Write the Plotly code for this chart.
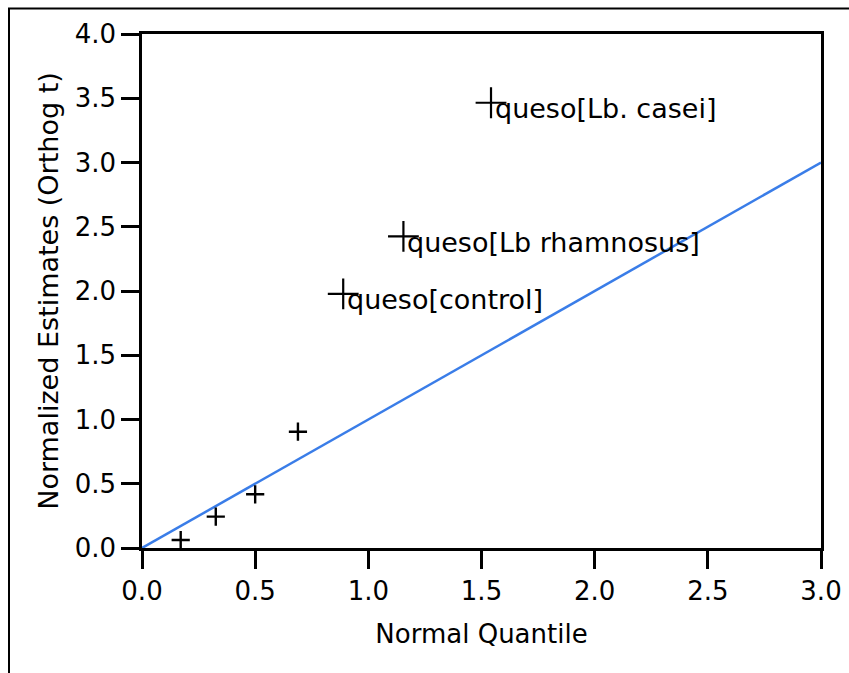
import plotly.graph_objects as go

# data
quantile = [0.171, 0.326, 0.500, 0.689, 0.889, 1.155, 1.542]
estimates = [0.062, 0.244, 0.418, 0.905, 1.977, 2.425, 3.465]
labels = ["", "", "", "", "queso[control]", "queso[Lb rhamnosus]", "queso[Lb. casei]"]
ref_x = [0.0, 3.0]
ref_y = [0.0, 3.0]
x_ticks = [0.0, 0.5, 1.0, 1.5, 2.0, 2.5, 3.0]
y_ticks = [0.0, 0.5, 1.0, 1.5, 2.0, 2.5, 3.0, 3.5, 4.0]

FONT = "DejaVu Sans"

fig = go.Figure()
fig.add_trace(go.Scatter(x=ref_x, y=ref_y, mode="lines",
                         line=dict(color="#3a7de8", width=2.5),
                         hoverinfo="skip", showlegend=False))

small_x = [q for q, l in zip(quantile, labels) if not l]
small_y = [e for e, l in zip(estimates, labels) if not l]
big_x = [q for q, l in zip(quantile, labels) if l]
big_y = [e for e, l in zip(estimates, labels) if l]
big_l = [l for l in labels if l]

fig.add_trace(go.Scatter(x=small_x, y=small_y, mode="markers",
                         marker=dict(symbol="cross-thin", size=13,
                                     line=dict(color="black", width=2.4)),
                         showlegend=False))
fig.add_trace(go.Scatter(x=big_x, y=big_y, mode="markers",
                         marker=dict(symbol="cross-thin", size=22,
                                     line=dict(color="black", width=2.2)),
                         showlegend=False))

for x, y, t in zip(big_x, big_y, big_l):
    fig.add_annotation(x=x, y=y, text=t, showarrow=False, xanchor="left",
                       yanchor="middle", xshift=2, yshift=-6,
                       font=dict(family=FONT, size=27, color="black"))

# outer frame
fig.add_shape(type="rect", xref="paper", yref="paper",
              x0=(9 - 142) / 679, x1=1.2, y0=-0.3, y1=(548 - 8.5) / 514,
              line=dict(color="black", width=2), layer="below")

axis_common = dict(showline=True, linecolor="black", linewidth=2.5, mirror=True,
                   ticks="outside", ticklen=18, tickwidth=2.5, tickcolor="black",
                   showgrid=False, zeroline=False,
                   tickfont=dict(family=FONT, size=26, color="black"))

fig.update_xaxes(range=[0, 3], tickvals=x_ticks, ticktext=[f"{v:.1f}" for v in x_ticks],
                 title=dict(text="Normal Quantile", standoff=20,
                            font=dict(family=FONT, size=26, color="black")),
                 **axis_common)
fig.update_yaxes(range=[0, 4], tickvals=y_ticks, ticktext=[f"{v:.1f}" for v in y_ticks],
                 title=dict(text="Normalized Estimates (Orthog t)", standoff=9,
                            font=dict(family=FONT, size=27, color="black")),
                 **axis_common)

fig.update_layout(width=849, height=673, autosize=False,
                  margin=dict(l=142, r=28, t=34, b=125, autoexpand=False),
                  paper_bgcolor="white", plot_bgcolor="white",
                  font=dict(family=FONT, color="black"))

fig.write_html("out.html", config={"displayModeBar": False},
               post_script="document.body.style.margin='0';document.body.style.padding='0';")
